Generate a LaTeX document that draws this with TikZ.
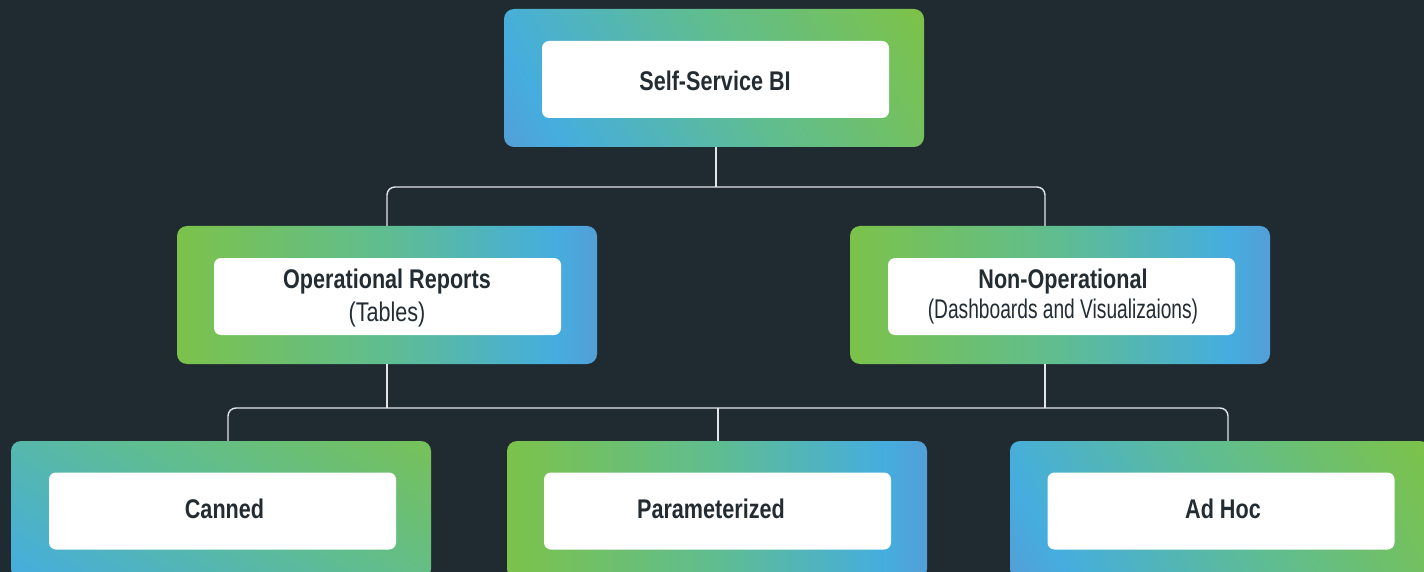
\documentclass[tikz,border=0pt]{standalone}
\usepackage{fontspec}
\setmainfont{Liberation Sans}
\newfontfamily\labfont[FakeStretch=0.8]{Liberation Sans}
\newfontfamily\narrowfont[FakeStretch=0.71]{Liberation Sans}
\usetikzlibrary{calc}
\definecolor{bgc}{HTML}{202B31}
\definecolor{gA}{HTML}{7CC24A}
\definecolor{gM}{HTML}{5FBD91}
\definecolor{gB}{HTML}{45ADDF}
\definecolor{gE}{HTML}{539FD7}
\definecolor{txt}{HTML}{222C32}
\definecolor{lnc}{HTML}{E2E6E8}
\pgfdeclarehorizontalshading{gbh}{100bp}{color(0bp)=(gA); color(25bp)=(gA); color(50bp)=(gM); color(70bp)=(gB); color(75bp)=(gE); color(100bp)=(gE)}
\pgfdeclarehorizontalshading{bgd}{100bp}{color(0bp)=(gE); color(25bp)=(gE); color(31bp)=(gB); color(52bp)=(gM); color(74bp)=(gA); color(100bp)=(gA)}
\tikzset{
  outer/.style={rectangle, rounded corners=10pt, minimum width=420pt, minimum height=138pt, inner sep=0pt, draw=none},
  horiz/.style={outer, shade, shading=gbh},
  diag/.style={outer, path picture={
      \pgfmathsetmacro\halfext{(420*cos(#1)+138*sin(#1))/2}
      \shade[shading=bgd, transform canvas={rotate around={#1:(path picture bounding box.center)}}]
        ($(path picture bounding box.center)+(-\halfext,-320)$) rectangle
        ($(path picture bounding box.center)+(\halfext,320)$);}},
  innerbox/.style={rectangle, rounded corners=7pt, fill=white, minimum width=347pt, minimum height=77pt, inner sep=0pt},
  lab/.style={anchor=base, inner sep=0pt, text=txt, font=\labfont\fontsize{27}{32}\selectfont},
  narrowlab/.style={anchor=base, inner sep=0pt, text=txt, font=\narrowfont\fontsize{27}{32}\selectfont},
  conn/.style={draw=lnc, line width=1.4pt, rounded corners=8pt}
}
\begin{document}
\begin{tikzpicture}[x=1pt,y=-1pt]
\fill[bgc] (0,0) rectangle (1424,572);
\useasboundingbox (0,0) rectangle (1424,572);
\clip (0,0) rectangle (1424,572);

\coordinate (j1) at (716,187);
\coordinate (j2) at (718,408);
\coordinate (nx) at (1045,300);

\node[diag=30] (top) at (714,78) {};
\node[horiz] (op) at (387,295) {};
\node[horiz] (nonop) at (1060,295) {};
\node[diag=60] (canned) at (221,510) {};
\node[horiz] (param) at (717,510) {};
\node[diag=30] (adhoc) at (1220,510) {};

\draw[conn] (j1 |- top.south) -- (j1);
\draw[conn] (op.north) |- (j1);
\draw[conn] (nonop.north -| nx) |- (j1);
\draw[conn] (op.south) -- (op.south |- j2);
\draw[conn] (nonop.south -| nx) -- (nx |- j2);
\draw[conn] ($(canned.north)+(7,0)$) |- (j2);
\draw[conn] ($(adhoc.north)+(8,0)$) |- (j2);
\draw[conn] (param.north -| j2) -- (j2);

\node[innerbox] (topin) at (715.5,79.5) {};
\node[lab] (toptxt) at (715,90.7) {\bfseries Self-Service BI};

\node[innerbox] (opin) at (387.5,296.5) {};
\node[lab] (opt1) at (387,288.3) {\bfseries Operational Reports};
\node[lab] (opt2) at (387,321.7) {(Tables)};

\node[innerbox] (nonopin) at (1061.5,296.5) {};
\node[lab] (nt1) at (1063,288.3) {\bfseries Non-Operational};
\node[narrowlab] (nt2) at (1063,318.5) {(Dashboards and Visualizaions)};

\node[innerbox] (cannedin) at (222.5,511) {};
\node[lab] (cannedt) at (224.5,518.3) {\bfseries Canned};

\node[innerbox] (paramin) at (717.5,511) {};
\node[lab] (paramt) at (711,518.3) {\bfseries Parameterized};

\node[innerbox] (adhocin) at (1221,511) {};
\node[lab] (adhoct) at (1223,518.3) {\bfseries Ad Hoc};
\end{tikzpicture}
\end{document}
